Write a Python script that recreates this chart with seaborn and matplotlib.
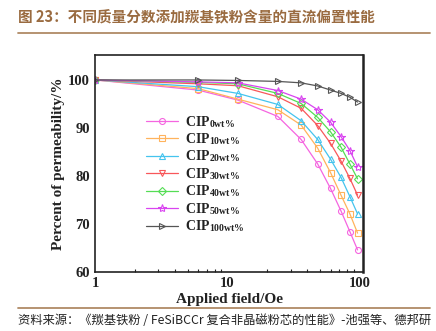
import matplotlib
matplotlib.use("Agg")
import matplotlib.pyplot as plt
import seaborn as sns
import pandas as pd
from matplotlib.lines import Line2D

sns.set_theme(style="white")
plt.rcParams['font.family'] = ['Liberation Serif', 'DejaVu Serif']
plt.rcParams['mathtext.fontset'] = 'stix'

field = [1, 6, 12, 24, 36, 48, 60, 72, 84, 96]
cip0 = [100, 97.9, 95.8, 92.4, 87.6, 82.5, 77.4, 72.7, 68.4, 64.6]
cip10 = [100, 98.2, 96.0, 93.8, 90.6, 85.8, 80.7, 76.0, 72.1, 68.1]
cip20 = [100, 98.6, 97.2, 94.9, 91.5, 87.6, 83.5, 79.7, 75.7, 72.1]
cip30 = [100, 99.2, 98.8, 96.5, 94.1, 90.5, 86.8, 83.1, 79.5, 76.0]
cip40 = [100, 99.5, 99.2, 97.2, 95.1, 92.2, 89.2, 86.0, 82.5, 79.4]
cip50 = [100, 99.6, 99.4, 97.8, 96.0, 93.8, 91.2, 88.2, 85.3, 81.9]
cip100 = [100, 100.0, 99.9, 99.7, 99.4, 98.75, 97.9, 97.2, 96.4, 95.4]

labels = [r'CIP$_{\mathregular{0wt\%}}$', r'CIP$_{\mathregular{10wt\%}}$', r'CIP$_{\mathregular{20wt\%}}$',
          r'CIP$_{\mathregular{30wt\%}}$', r'CIP$_{\mathregular{40wt\%}}$', r'CIP$_{\mathregular{50wt\%}}$',
          r'CIP$_{\mathregular{100wt\%}}$']
series = [cip0, cip10, cip20, cip30, cip40, cip50, cip100]
colors = ['#f565e0', '#ffb35c', '#45c4ee', '#f8575a', '#55dd55', '#d944f0', '#555555']
markers = ['o', 's', '^', 'v', 'D', '*', '>']
msizes = [4.3, 4.0, 4.8, 4.8, 4.2, 6.0, 5.0]

fig = plt.figure(figsize=(4.36, 3.31), dpi=100)
ax = fig.add_axes([95/436, 1-272/331, (363-95)/436, (272-55)/331])

handles = []
for vals, lab, c, m, ms in zip(series, labels, colors, markers, msizes):
    df = pd.DataFrame({'field': field, 'perm': vals})
    sns.lineplot(data=df, x='field', y='perm', ax=ax, color=c, lw=0.9,
                 marker=m, markersize=ms, markerfacecolor='none',
                 markeredgecolor=c, markeredgewidth=0.8, legend=False)
    handles.append(Line2D([0], [0], color=c, lw=0.9, marker=m, markersize=ms,
                          markerfacecolor='none', markeredgecolor=c, markeredgewidth=0.8, label=lab))

ax.set_xscale('log')
ax.set_xlim(1, 105.5)
ax.set_ylim(60, 105.2)
ax.set_yticks([60, 70, 80, 90, 100])
ax.set_yticks([65, 75, 85, 95], minor=True)
ax.set_xticks([1, 10, 100])
ax.set_xticklabels(['1', '10', '100'])
ax.tick_params(axis='both', which='both', direction='in', labelsize=10.5, colors='#222222')
ax.tick_params(axis='both', which='major', length=4, width=1)
ax.tick_params(axis='both', which='minor', length=2, width=0.8)
ax.tick_params(axis='x', which='minor', bottom=True)
for lbl in ax.get_xticklabels() + ax.get_yticklabels():
    lbl.set_fontweight('bold')
for s in ax.spines.values():
    s.set_color('#222222')
    s.set_linewidth(1.2)
ax.spines['right'].set_linewidth(1.8)

ax.set_xlabel('Applied field/Oe', fontsize=11, fontweight='bold', color='#222222', labelpad=2)
ax.set_ylabel('Percent of permeability/%', fontsize=11, fontweight='bold', color='#222222', labelpad=2)

leg = ax.legend(handles=handles, loc='upper left', bbox_to_anchor=(0.17, 0.755),
                frameon=False, fontsize=10, handlelength=2.3, handletextpad=0.5,
                labelspacing=0.12, borderaxespad=0)
for t in leg.get_texts():
    t.set_fontweight('bold')
    t.set_color('#222222')

# header and footer
fig.text(18/436, 1-17/331, '图 23：不同质量分数添加羰基铁粉含量的直流偏置性能',
         family=['Noto Sans CJK SC', 'DejaVu Sans'], fontsize=10.5, fontweight='bold',
         color='#9a6b40', ha='left', va='center')
fig.add_artist(Line2D([18/436, 430/436], [1-32.5/331, 1-32.5/331], color='#b08a66', lw=1.3))
fig.add_artist(Line2D([18/436, 430/436], [1-307.5/331, 1-307.5/331], color='#b08a66', lw=1.3))
fig.text(18/436, 1-320/331, '资料来源：《羰基铁粉 / FeSiBCCr 复合非晶磁粉芯的性能》-池强等、德邦研',
         family=['Noto Sans CJK SC', 'DejaVu Sans'], fontsize=8.85,
         color='#222222', ha='left', va='center')

fig.savefig('out.png', dpi=100)
